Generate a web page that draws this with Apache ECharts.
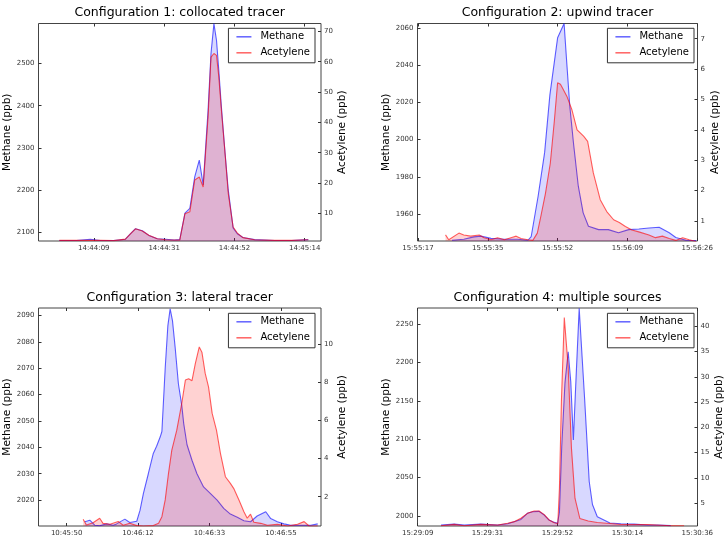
<!DOCTYPE html>
<html><head><meta charset="utf-8">
<script src="https://cdn.jsdelivr.net/npm/echarts@6/dist/echarts.min.js"></script>
<style>html,body{margin:0;padding:0;background:#fff}#c{width:728px;height:544px}</style>
</head><body><div id="c"></div>
<script>
// ---------- data (times in seconds after the minute shown in the first tick's hour:minute) ----------
const titles = ['Configuration 1: collocated tracer', 'Configuration 2: upwind tracer',
                'Configuration 3: lateral tracer', 'Configuration 4: multiple sources'];
const seriesNames = ['Methane', 'Acetylene'];

// Panel 1 (seconds after 14:44:00)
const p1Time = [-1.2, 4.0, 8.3, 11.4, 15.5, 19.1, 20.7, 22.2, 24.3, 26.3, 28.9, 31.5, 34.1, 35.8, 37.4, 38.9, 40.4, 41.8, 43.0, 44.5, 45.4, 46.3, 47.1, 47.8, 48.6, 49.7, 50.7, 52.2, 53.5, 55.2, 58.8, 65.0, 70.2, 75.3];
const p1Methane = [2080, 2080, 2083, 2080, 2080, 2083, 2096, 2108, 2103, 2092, 2084, 2083, 2081, 2082, 2145, 2156, 2231, 2271, 2212, 2389, 2524, 2595, 2555, 2484, 2397, 2290, 2200, 2110, 2096, 2087, 2082, 2080, 2080, 2082];
const p1Acetylene = [1.1, 1.1, 1.1, 1.1, 1.0, 1.5, 3.3, 4.9, 4.2, 2.8, 1.6, 1.3, 1.2, 1.2, 9.9, 10.5, 21, 22, 18.7, 41.8, 61.5, 62.7, 62.1, 55, 44, 30, 16.6, 5.5, 3.5, 2.0, 1.3, 1.1, 1.1, 1.3];
const p1XTicks = [9.4, 31.0, 52.6, 74.2];
const p1XLabels = ['14:44:09', '14:44:31', '14:44:52', '14:45:14'];
const p1MethaneTicks = [2100, 2200, 2300, 2400, 2500];
const p1AcetyleneTicks = [10, 20, 30, 40, 50, 60, 70];

// Panel 2 (seconds after 15:55:00)
const p2MethaneTime = [26.3, 29.2, 31.7, 33.4, 35.9, 39.2, 42.5, 45.0, 45.8, 47.5, 49.1, 50.4, 52.3, 53.9, 54.5, 55.3, 56.2, 57.4, 58.6, 59.9, 62.4, 64.8, 67.3, 69.8, 72.3, 74.8, 77.3, 79.8, 81.4, 83.9, 86.4];
const p2Methane = [1946, 1946.5, 1947.8, 1948.2, 1947, 1946.5, 1946.5, 1946, 1948, 1969.6, 1993, 2024, 2054.6, 2062.3, 2043, 2018, 1998.3, 1975, 1960.7, 1953.5, 1951.7, 1951.7, 1950, 1951.7, 1952, 1952.6, 1953, 1950, 1947.5, 1946, 1945.8];
const p2AcetyleneTime = [24.7, 25.5, 28.0, 29.2, 30.9, 33.0, 34.2, 35.9, 37.5, 39.2, 40.8, 42.1, 43.3, 45.0, 46.2, 47.3, 48.0, 49.3, 50.5, 51.5, 52.3, 53.0, 53.6, 54.6, 55.8, 57.1, 58.7, 59.7, 61.1, 62.8, 64.4, 66.1, 67.5, 69.0, 70.6, 72.3, 74.8, 76.4, 78.1, 79.8, 81.4, 83.1, 84.7, 86.4];
const p2Acetylene = [0.54, 0.38, 0.6, 0.54, 0.5, 0.54, 0.45, 0.38, 0.45, 0.38, 0.45, 0.5, 0.42, 0.38, 0.36, 0.6, 1.04, 1.9, 2.9, 4.3, 5.55, 5.5, 5.35, 5.1, 4.67, 4.0, 3.79, 3.62, 2.58, 1.7, 1.31, 1.04, 0.95, 0.82, 0.7, 0.64, 0.54, 0.45, 0.5, 0.42, 0.36, 0.45, 0.38, 0.32];
const p2XTicks = [17.9, 35.1, 52.3, 69.5, 86.7];
const p2XLabels = ['15:55:17', '15:55:35', '15:55:52', '15:56:09', '15:56:26'];
const p2MethaneTicks = [1960, 1980, 2000, 2020, 2040, 2060];
const p2AcetyleneTicks = [1, 2, 3, 4, 5, 6, 7];

// Panel 3 (seconds after 10:45:00)
const p3MethaneTime = [56.1, 57.6, 59.1, 60.6, 62.7, 64.7, 65.7, 68.2, 69.7, 71.8, 72.8, 73.8, 75.3, 76.8, 77.8, 78.9, 79.4, 80.4, 81.2, 81.9, 82.6, 83.4, 84.4, 85.4, 86.0, 87.0, 88.5, 90.0, 92.0, 94.1, 96.1, 98.1, 100.1, 102.2, 104.2, 106.2, 108.2, 110.8, 112.3, 114.3, 116.3, 118.4, 121.4, 124.4, 126.5];
const p3Methane = [2011.8, 2012.4, 2010.5, 2010.3, 2011, 2010.5, 2011, 2012.8, 2011.5, 2012, 2016.2, 2022.5, 2030, 2037.7, 2040.4, 2044, 2046, 2070, 2086, 2092.5, 2088, 2078, 2064, 2056, 2049, 2041, 2035.1, 2030, 2025, 2022.5, 2020, 2016.9, 2014.7, 2013.5, 2012.2, 2011.8, 2014, 2015.6, 2013, 2011.8, 2011, 2010.5, 2010.5, 2010.5, 2011];
const p3AcetyleneTime = [55.6, 56.6, 58.6, 60.6, 61.6, 63.7, 66.2, 67.7, 69.7, 71.8, 73.8, 76.8, 78.4, 79.4, 80.4, 81.4, 82.4, 83.9, 85.4, 86.5, 87.5, 88.5, 89.5, 90.7, 91.5, 92.5, 93.5, 94.6, 95.9, 97.1, 98.6, 100.1, 101.1, 102.7, 104.2, 105.2, 106.2, 107.2, 109.3, 111.3, 114.3, 117.4, 120.4, 122.4, 123.9, 126.5];
const p3Acetylene = [0.81, 0.51, 0.63, 0.87, 0.6, 0.55, 0.7, 0.5, 0.6, 0.48, 0.46, 0.48, 0.6, 0.95, 1.83, 3.23, 4.45, 5.5, 6.9, 8.13, 8.2, 8.1, 9.0, 9.87, 9.6, 8.48, 7.77, 6.38, 5.5, 4.28, 3.05, 2.7, 2.44, 1.83, 1.21, 0.87, 1.08, 0.66, 0.6, 0.5, 0.55, 0.46, 0.55, 0.69, 0.46, 0.46];
const p3XTicks = [50.6, 72.2, 93.8, 115.4];
const p3XLabels = ['10:45:50', '10:46:12', '10:46:33', '10:46:55'];
const p3MethaneTicks = [2020, 2030, 2040, 2050, 2060, 2070, 2080, 2090];
const p3AcetyleneTicks = [2, 4, 6, 8, 10];

// Panel 4 (seconds after 15:29:00)
const p4MethaneTime = [16.9, 21.0, 24.1, 29.2, 34.4, 37.5, 39.5, 41.6, 43.6, 45.2, 47.2, 48.8, 50.3, 51.9, 52.9, 53.5, 54.2, 55.2, 56.2, 57.0, 57.8, 58.6, 59.6, 61.3, 62.7, 63.7, 65.2, 69.1, 72.5, 76.6, 80.7, 83.8, 87.9];
const p4Methane = [1988.3, 1989.5, 1988.3, 1989.5, 1988.3, 1990, 1992.6, 1995.6, 2003.5, 2005.6, 2006, 2001.3, 1994.8, 1991.7, 1990.5, 2005, 2090, 2173, 2214, 2175, 2099, 2177, 2270.5, 2151, 2045, 2015, 1999, 1991, 1990, 1989.5, 1988.3, 1988.3, 1987.5];
const p4AcetyleneTime = [16.9, 21.0, 24.1, 29.2, 34.4, 37.5, 39.5, 41.6, 43.6, 45.7, 47.2, 48.8, 50.3, 51.9, 53.0, 53.5, 54.1, 55.0, 56.2, 57.2, 58.3, 59.8, 62.4, 65.2, 69.1, 72.5, 80.7, 87.9, 92.0];
const p4Acetylene = [0.56, 0.82, 0.56, 0.82, 0.7, 1.04, 1.36, 2.03, 3.0, 3.47, 3.47, 2.75, 1.69, 1.16, 1.0, 8, 25, 41.7, 32, 16, 6, 2.0, 1.5, 1.2, 1.0, 0.8, 0.8, 0.56, 0.56];
const p4XTicks = [9.7, 31.3, 52.9, 74.5, 96.1];
const p4XLabels = ['15:29:09', '15:29:31', '15:29:52', '15:30:14', '15:30:36'];
const p4MethaneTicks = [2000, 2050, 2100, 2150, 2200, 2250];
const p4AcetyleneTicks = [5, 10, 15, 20, 25, 30, 35, 40];

// ---------- assembly ----------
const panels = [
  {mt: p1Time, m: p1Methane, at: p1Time, a: p1Acetylene, xt: p1XTicks, xl: p1XLabels, mTicks: p1MethaneTicks, aTicks: p1AcetyleneTicks,
   xr: [-7.6, 79.2], mr: [2078.7, 2595.3], ar: [0.88, 72.6]},
  {mt: p2MethaneTime, m: p2Methane, at: p2AcetyleneTime, a: p2Acetylene, xt: p2XTicks, xl: p2XLabels, mTicks: p2MethaneTicks, aTicks: p2AcetyleneTicks,
   xr: [17.8, 86.75], mr: [1945.6, 2062.3], ar: [0.34, 7.5]},
  {mt: p3MethaneTime, m: p3Methane, at: p3AcetyleneTime, a: p3Acetylene, xt: p3XTicks, xl: p3XLabels, mTicks: p3MethaneTicks, aTicks: p3AcetyleneTicks,
   xr: [42.1, 127.5], mr: [2010.2, 2092.8], ar: [0.46, 11.92]},
  {mt: p4MethaneTime, m: p4Methane, at: p4AcetyleneTime, a: p4Acetylene, xt: p4XTicks, xl: p4XLabels, mTicks: p4MethaneTicks, aTicks: p4AcetyleneTicks,
   xr: [9.65, 96.15], mr: [1987, 2270.9], ar: [0.5, 43.6]}
];

const layout = [
  {grid: {left: 38.5, top: 23.5, width: 282.5, height: 217.5}, cx: 179.7, ty: 6.5, legRight: 413, legTop: 28.3},
  {grid: {left: 417.5, top: 23.5, width: 280, height: 217.5}, cx: 557.5, ty: 6.5, legRight: 34, legTop: 28.3},
  {grid: {left: 38.5, top: 308, width: 282.5, height: 218}, cx: 179.7, ty: 291, legRight: 413, legTop: 313.3},
  {grid: {left: 417.5, top: 308, width: 280, height: 218}, cx: 557.5, ty: 291, legRight: 34, legTop: 313.3}
];

const FONT = 'DejaVu Sans';
const BLUE_LINE = 'rgba(0,0,255,0.62)', BLUE_FILL = 'rgba(0,0,255,0.22)';
const RED_LINE = 'rgba(255,0,0,0.62)', RED_FILL = 'rgba(255,0,0,0.25)';
const zip = (t, v) => t.map((x, i) => [x, v[i]]);

const option = {animation: false, backgroundColor: '#fff', title: [], grid: [], xAxis: [], yAxis: [], legend: [], series: []};

const tickStyle = {show: true, inside: true, length: 3, lineStyle: {color: '#333', width: 1}};
const labelStyle = {fontSize: 7, color: '#333', fontFamily: FONT};
const noLine = {show: false, onZero: false};
const plain = v => String(v);

panels.forEach((p, i) => {
  const L = layout[i];
  option.title.push({text: titles[i], left: L.cx, top: L.ty, textAlign: 'center', padding: 0,
    textStyle: {fontSize: 12.5, fontWeight: 'normal', color: '#000', fontFamily: FONT}});
  option.grid.push(Object.assign({show: true, borderColor: '#444', borderWidth: 1, backgroundColor: '#fff', containLabel: false}, L.grid));
  const fmt = v => { const k = p.xt.findIndex(t => Math.abs(t - v) < 1e-6); return k >= 0 ? p.xl[k] : ''; };
  option.xAxis.push({type: 'value', gridIndex: i, position: 'bottom', min: p.xr[0], max: p.xr[1],
    axisLine: noLine, splitLine: {show: false},
    axisTick: Object.assign({customValues: p.xt}, tickStyle),
    axisLabel: Object.assign({customValues: p.xt, formatter: fmt, margin: 4}, labelStyle)});
  option.xAxis.push({type: 'value', gridIndex: i, position: 'top', min: p.xr[0], max: p.xr[1],
    axisLine: noLine, splitLine: {show: false},
    axisTick: Object.assign({customValues: p.xt}, tickStyle), axisLabel: {show: false}});
  option.yAxis.push({type: 'value', gridIndex: i, position: 'left', min: p.mr[0], max: p.mr[1],
    axisLine: noLine, splitLine: {show: false},
    axisTick: Object.assign({customValues: p.mTicks}, tickStyle),
    axisLabel: Object.assign({customValues: p.mTicks, formatter: plain, margin: 4}, labelStyle),
    name: 'Methane (ppb)', nameLocation: 'middle', nameGap: 17.5, nameRotate: 90,
    nameTextStyle: {fontSize: 10.5, color: '#000', fontFamily: FONT}});
  option.yAxis.push({type: 'value', gridIndex: i, position: 'right', min: p.ar[0], max: p.ar[1],
    axisLine: noLine, splitLine: {show: false},
    axisTick: Object.assign({customValues: p.aTicks}, tickStyle),
    axisLabel: Object.assign({customValues: p.aTicks, formatter: plain, margin: 3}, labelStyle),
    name: 'Acetylene (ppb)', nameLocation: 'middle', nameGap: 12, nameRotate: 90,
    nameTextStyle: {fontSize: 10.5, color: '#000', fontFamily: FONT}});
  option.series.push({type: 'line', name: seriesNames[0], xAxisIndex: 2 * i, yAxisIndex: 2 * i,
    data: zip(p.mt, p.m), symbol: 'none', smooth: false, z: 2,
    lineStyle: {color: BLUE_LINE, width: 1.1}, itemStyle: {color: BLUE_LINE},
    areaStyle: {color: BLUE_FILL, origin: 'start'}});
  option.series.push({type: 'line', name: seriesNames[1], xAxisIndex: 2 * i, yAxisIndex: 2 * i + 1,
    data: zip(p.at, p.a), symbol: 'none', smooth: false, z: 3,
    lineStyle: {color: RED_LINE, width: 1.1}, itemStyle: {color: RED_LINE},
    areaStyle: {color: RED_FILL, origin: 'start'}});
  option.legend.push({right: L.legRight, top: L.legTop, orient: 'vertical', align: 'left',
    data: seriesNames, icon: 'rect', itemWidth: 15, itemHeight: 1.5, itemGap: 4,
    backgroundColor: '#fff', borderColor: '#333', borderWidth: 1, borderRadius: 0,
    padding: [2.5, 5, 4, 8], selectedMode: false, z: 10,
    textStyle: {fontSize: 10, lineHeight: 12, color: '#000', fontFamily: FONT, padding: [0, 0, 0, 4]}});
});

const chart = echarts.init(document.getElementById('c'), null, {renderer: 'canvas'});
chart.setOption(option);
</script></body></html>
